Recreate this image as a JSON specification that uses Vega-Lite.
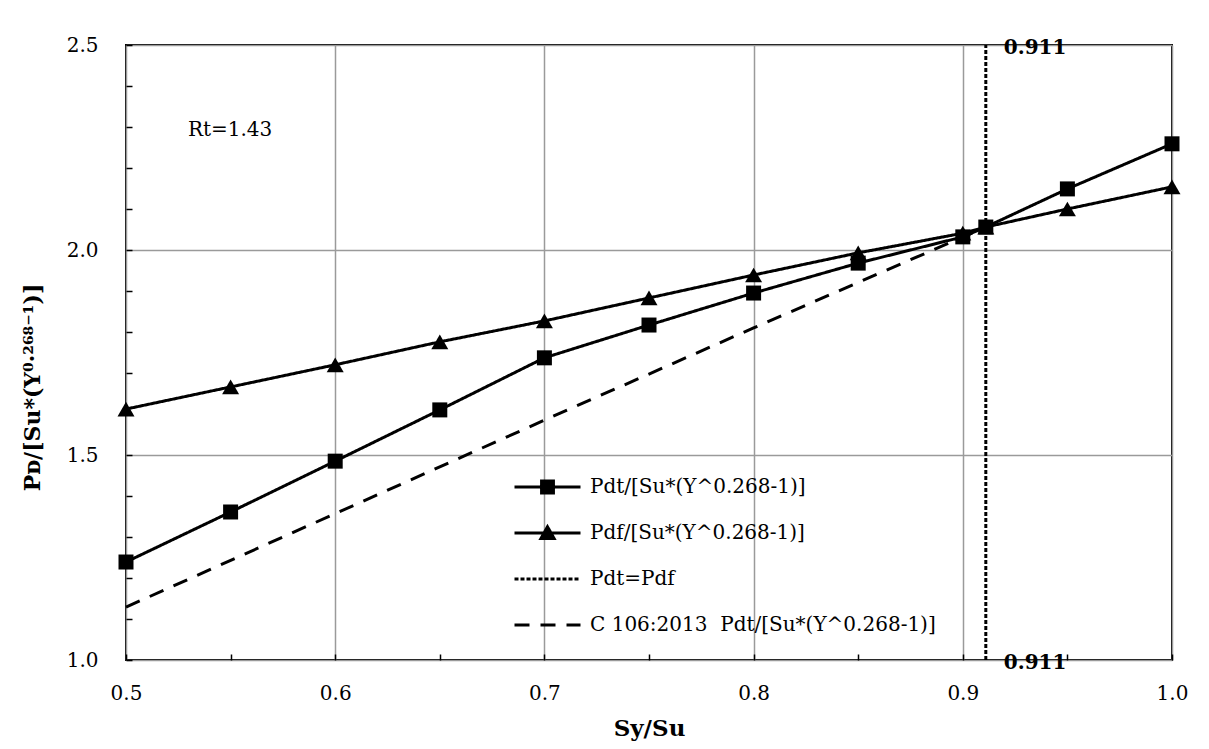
{
  "$schema": "https://vega.github.io/schema/vega-lite/v6.json",
  "width": 1046,
  "height": 615,
  "autosize": "none",
  "padding": {"left": 126, "top": 45, "right": 37, "bottom": 89},
  "background": "white",
  "config": {
    "font": "DejaVu Serif",
    "view": {"stroke": "black", "strokeWidth": 2}
  },
  "datasets": {
    "curves": [
      {"series": "Pdt/[Su*(Y^0.268-1)]", "x": 0.5, "y": 1.239},
      {"series": "Pdt/[Su*(Y^0.268-1)]", "x": 0.55, "y": 1.361},
      {"series": "Pdt/[Su*(Y^0.268-1)]", "x": 0.6, "y": 1.485},
      {"series": "Pdt/[Su*(Y^0.268-1)]", "x": 0.65, "y": 1.61},
      {"series": "Pdt/[Su*(Y^0.268-1)]", "x": 0.7, "y": 1.737},
      {"series": "Pdt/[Su*(Y^0.268-1)]", "x": 0.75, "y": 1.817},
      {"series": "Pdt/[Su*(Y^0.268-1)]", "x": 0.8, "y": 1.895},
      {"series": "Pdt/[Su*(Y^0.268-1)]", "x": 0.85, "y": 1.968},
      {"series": "Pdt/[Su*(Y^0.268-1)]", "x": 0.9, "y": 2.032},
      {"series": "Pdt/[Su*(Y^0.268-1)]", "x": 0.911, "y": 2.056},
      {"series": "Pdt/[Su*(Y^0.268-1)]", "x": 0.95, "y": 2.149},
      {"series": "Pdt/[Su*(Y^0.268-1)]", "x": 1.0, "y": 2.259},
      {"series": "Pdf/[Su*(Y^0.268-1)]", "x": 0.5, "y": 1.612},
      {"series": "Pdf/[Su*(Y^0.268-1)]", "x": 0.55, "y": 1.666},
      {"series": "Pdf/[Su*(Y^0.268-1)]", "x": 0.6, "y": 1.72},
      {"series": "Pdf/[Su*(Y^0.268-1)]", "x": 0.65, "y": 1.776},
      {"series": "Pdf/[Su*(Y^0.268-1)]", "x": 0.7, "y": 1.827},
      {"series": "Pdf/[Su*(Y^0.268-1)]", "x": 0.75, "y": 1.883},
      {"series": "Pdf/[Su*(Y^0.268-1)]", "x": 0.8, "y": 1.939},
      {"series": "Pdf/[Su*(Y^0.268-1)]", "x": 0.85, "y": 1.993},
      {"series": "Pdf/[Su*(Y^0.268-1)]", "x": 0.9, "y": 2.041},
      {"series": "Pdf/[Su*(Y^0.268-1)]", "x": 0.911, "y": 2.056},
      {"series": "Pdf/[Su*(Y^0.268-1)]", "x": 0.95, "y": 2.1},
      {"series": "Pdf/[Su*(Y^0.268-1)]", "x": 1.0, "y": 2.154},
      {"series": "Pdt=Pdf", "x": 0.911, "y": 1.0},
      {"series": "Pdt=Pdf", "x": 0.911, "y": 2.5},
      {"series": "C 106:2013\u00a0 Pdt/[Su*(Y^0.268-1)]", "x": 0.5, "y": 1.129},
      {"series": "C 106:2013\u00a0 Pdt/[Su*(Y^0.268-1)]", "x": 0.6, "y": 1.357},
      {"series": "C 106:2013\u00a0 Pdt/[Su*(Y^0.268-1)]", "x": 0.7, "y": 1.585},
      {"series": "C 106:2013\u00a0 Pdt/[Su*(Y^0.268-1)]", "x": 0.8, "y": 1.81},
      {"series": "C 106:2013\u00a0 Pdt/[Su*(Y^0.268-1)]", "x": 0.911, "y": 2.056}
    ],
    "notes": [
      {"x": 0.5296, "y": 2.293, "text": "Rt=1.43"}
    ]
  },
  "layer": [
    {
      "data": {"name": "curves"},
      "mark": {"type": "line", "strokeCap": "butt"},
      "encoding": {
        "x": {
          "field": "x",
          "type": "quantitative",
          "scale": {"domain": [0.5, 1.0], "nice": false, "zero": false},
          "axis": {
            "title": "Sy/Su",
            "titleFont": "DejaVu Serif",
            "titleFontSize": 23,
            "titleFontWeight": "bold",
            "titleColor": "black",
            "titleX": 523,
            "titleY": 74,
            "titleBaseline": "middle",
            "offset": -6,
            "domain": false,
            "values": [0.5, 0.55, 0.6, 0.65, 0.7, 0.75, 0.8, 0.85, 0.9, 0.95, 1.0],
            "labelExpr": "abs(datum.value*10 - round(datum.value*10)) < 1e-6 ? format(datum.value, '.1f') : ''",
            "labelFont": "DejaVu Serif",
            "labelFontSize": 20,
            "labelColor": "black",
            "labelPadding": 23,
            "labelFlush": false,
            "labelOverlap": false,
            "tickSize": 6,
            "tickWidth": 1.5,
            "tickColor": "black",
            "grid": true,
            "gridColor": "#9a9a9a",
            "gridWidth": 1.5,
            "gridOpacity": {"condition": {"test": "abs(datum.value*10 - round(datum.value*10)) < 1e-6", "value": 1}, "value": 0}
          }
        },
        "y": {
          "field": "y",
          "type": "quantitative",
          "scale": {"domain": [1.0, 2.5], "nice": false, "zero": false},
          "axis": {
            "title": "Pᴅ/[Su*(Y⁰·²⁶⁸⁻¹)]",
            "titleFont": "DejaVu Serif",
            "titleFontSize": 22,
            "titleFontWeight": "bold",
            "titleColor": "black",
            "titleAngle": -90,
            "titleX": -100,
            "titleY": 342,
            "titleAlign": "center",
            "titleBaseline": "middle",
            "offset": -6,
            "domain": false,
            "values": [1.0, 1.1, 1.2, 1.3, 1.4, 1.5, 1.6, 1.7, 1.8, 1.9, 2.0, 2.1, 2.2, 2.3, 2.4, 2.5],
            "labelExpr": "abs(datum.value*2 - round(datum.value*2)) < 1e-6 ? format(datum.value, '.1f') : ''",
            "labelFont": "DejaVu Serif",
            "labelFontSize": 20,
            "labelColor": "black",
            "labelPadding": 28,
            "labelFlush": false,
            "labelOverlap": false,
            "tickSize": 6,
            "tickWidth": 1.5,
            "tickColor": "black",
            "grid": true,
            "gridColor": "#9a9a9a",
            "gridWidth": 1.5,
            "gridOpacity": {"condition": {"test": "abs(datum.value*2 - round(datum.value*2)) < 1e-6", "value": 1}, "value": 0}
          }
        },
        "color": {
          "field": "series",
          "type": "nominal",
          "scale": {
            "domain": ["Pdt/[Su*(Y^0.268-1)]", "Pdf/[Su*(Y^0.268-1)]", "Pdt=Pdf", "C 106:2013\u00a0 Pdt/[Su*(Y^0.268-1)]"],
            "range": ["black", "black", "black", "black"]
          },
          "legend": {
            "orient": "none",
            "legendX": 387,
            "legendY": 432,
            "title": null,
            "padding": 0,
            "symbolSize": 4356,
            "clipHeight": 20,
            "rowPadding": 26,
            "labelOffset": 8,
            "labelFont": "DejaVu Serif",
            "labelFontSize": 20,
            "labelColor": "black",
            "labelLimit": 0,
            "encode": {
              "symbols": {
                "update": {
                  "shape": {"signal": "datum.index === 0 ? 'M-1,0L1,0M-0.18,-0.18L0.18,-0.18L0.18,0.18L-0.18,0.18Z' : datum.index === 1 ? 'M-1,0L1,0M0,-0.19L0.2,0.17L-0.2,0.17Z' : 'M-1,0L1,0'"},
                  "fill": {"signal": "datum.index < 2 ? 'black' : 'transparent'"},
                  "stroke": {"value": "black"},
                  "strokeWidth": {"signal": "datum.index === 2 ? 1.2 : 3"},
                  "strokeDash": {"signal": "datum.index === 2 ? [4, 3] : datum.index === 3 ? [15, 11] : [1, 0]"},
                  "opacity": {"value": 1}
                }
              }
            }
          }
        },
        "strokeDash": {
          "field": "series",
          "type": "nominal",
          "scale": {
            "domain": ["Pdt/[Su*(Y^0.268-1)]", "Pdf/[Su*(Y^0.268-1)]", "Pdt=Pdf", "C 106:2013\u00a0 Pdt/[Su*(Y^0.268-1)]"],
            "range": [[1, 0], [1, 0], [4, 2], [15, 11]]
          },
          "legend": null
        },
        "strokeWidth": {
          "field": "series",
          "type": "nominal",
          "scale": {
            "domain": ["Pdt/[Su*(Y^0.268-1)]", "Pdf/[Su*(Y^0.268-1)]", "Pdt=Pdf", "C 106:2013\u00a0 Pdt/[Su*(Y^0.268-1)]"],
            "range": [3, 3, 1.2, 3]
          },
          "legend": null
        }
      }
    },
    {
      "data": {"name": "curves"},
      "transform": [{"filter": "datum.series === 'Pdf/[Su*(Y^0.268-1)]'"}],
      "mark": {"type": "point", "shape": "triangle-up", "filled": true, "color": "black", "size": 289, "opacity": 1, "strokeWidth": 0},
      "encoding": {
        "x": {"field": "x", "type": "quantitative"},
        "y": {"field": "y", "type": "quantitative"}
      }
    },
    {
      "data": {"name": "curves"},
      "transform": [{"filter": "datum.series === 'Pdt/[Su*(Y^0.268-1)]'"}],
      "mark": {"type": "point", "shape": "square", "filled": true, "color": "black", "size": 225, "opacity": 1, "strokeWidth": 0},
      "encoding": {
        "x": {"field": "x", "type": "quantitative"},
        "y": {"field": "y", "type": "quantitative"}
      }
    },
    {
      "data": {"name": "curves"},
      "transform": [{"filter": "datum.series === 'Pdt=Pdf'"}],
      "mark": {"type": "text", "align": "left", "baseline": "middle", "dx": 18, "dy": 3, "font": "DejaVu Serif", "fontSize": 20, "fontWeight": "bold", "color": "black"},
      "encoding": {
        "x": {"field": "x", "type": "quantitative"},
        "y": {"field": "y", "type": "quantitative"},
        "text": {"field": "x", "type": "quantitative", "format": ".3f"}
      }
    },
    {
      "data": {"name": "notes"},
      "mark": {"type": "text", "align": "left", "baseline": "middle", "font": "DejaVu Serif", "fontSize": 20, "color": "black"},
      "encoding": {
        "x": {"field": "x", "type": "quantitative"},
        "y": {"field": "y", "type": "quantitative"},
        "text": {"field": "text", "type": "nominal"}
      }
    }
  ]
}
